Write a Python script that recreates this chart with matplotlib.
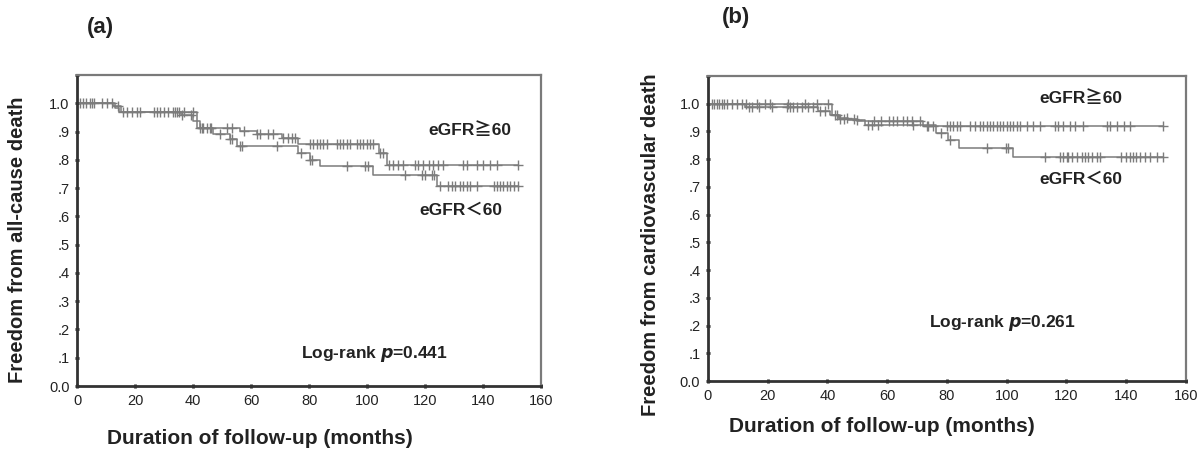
#!/usr/bin/env python3
"""
kaplan-meier plots

freedom from all-cause and cardiovascular death by eGFR group
"""

import numpy as np
import matplotlib
matplotlib.use('Agg')
import matplotlib.pyplot as plt

FONT = ['Liberation Sans', 'Noto Sans CJK JP', 'DejaVu Sans']
plt.rcParams['font.family'] = FONT

# (a) all-cause death: step times (months) and survival after each step
a_hi_times = [0, 13, 14.5, 41.5, 56.2, 62.0, 70.6, 76.3, 104.0, 106.8]
a_hi_surv = [1.0, 0.985, 0.970, 0.914, 0.902, 0.890, 0.876, 0.855, 0.825, 0.780]
a_hi_end = 152.2
a_hi_censor = [1.0, 3.1, 5.2, 8.5, 12.0, 16.0, 18.9, 21.7, 26.6, 28.6, 31.5,
               33.8, 35.3, 36.9, 40.0, 43.3, 46.2, 51.6, 53.3, 57.4, 62.0,
               63.1, 66.0, 67.7, 71.1, 72.9, 74.0, 75.2, 80.3, 81.5, 82.6,
               83.8, 84.9, 86.1, 89.5, 90.7, 91.8, 93.0, 94.1, 96.4, 97.6,
               98.7, 99.9, 101.0, 102.2, 104.5, 105.6, 107.4, 109.1, 110.8,
               112.5, 116.6, 117.7, 119.4, 121.2, 122.9, 124.6, 126.3, 133.2,
               134.4, 137.8, 140.1, 142.4, 144.7, 152.2]

a_lo_times = [0, 12.5, 15.0, 36.0, 40.0, 42.4, 47.0, 52.8, 55.1, 76.3, 80.3,
              83.8, 102.0, 124.0]
a_lo_surv = [1.0, 0.990, 0.970, 0.960, 0.937, 0.911, 0.890, 0.872, 0.849,
             0.825, 0.800, 0.778, 0.748, 0.709]
a_lo_end = 152.2
a_lo_censor = [2.2, 4.3, 6.0, 10.2, 14.2, 17.1, 20.6, 27.7, 30.0, 33.0, 34.6,
               36.1, 39.2, 42.4, 43.0, 44.7, 45.9, 49.3, 52.8, 53.3, 56.2,
               56.8, 68.9, 77.2, 80.3, 80.9, 93.0, 99.3, 100.4, 113.1, 118.9,
               120.0, 122.3, 123.1, 125.2, 128.0, 129.2, 130.3, 132.1, 133.2,
               134.4, 135.5, 137.8, 143.6, 144.7, 145.9, 147.0, 148.2, 149.3,
               150.5, 152.2]

# (b) cardiovascular death
b_hi_times = [0, 41.4, 44.0, 50.0, 72.0]
b_hi_surv = [1.0, 0.958, 0.945, 0.936, 0.918]
b_hi_end = 152.4
b_hi_censor = [1.2, 2.0, 2.9, 3.8, 4.6, 5.5, 6.3, 7.9, 9.6, 11.3, 12.9, 16.3,
               19.1, 20.8, 26.9, 32.5, 36.4, 40.3, 44.2, 45.4, 49.0, 55.5,
               58.0, 60.5, 62.0, 63.2, 65.4, 66.5, 68.2, 71.0, 73.2, 73.7,
               75.4, 79.9, 81.0, 82.1, 83.2, 84.4, 87.7, 89.4, 91.0, 92.1,
               93.3, 94.4, 95.5, 96.6, 97.7, 98.9, 100.0, 101.1, 102.2, 103.3,
               104.4, 106.7, 108.9, 111.1, 116.1, 117.3, 118.9, 121.2, 122.9,
               125.6, 133.5, 134.6, 136.8, 139.1, 141.3, 152.4]

b_lo_times = [0, 12.5, 37.0, 41.0, 44.0, 47.0, 52.5, 76.5, 80.4, 84.1, 102.2]
b_lo_surv = [1.0, 0.987, 0.975, 0.960, 0.948, 0.942, 0.922, 0.894, 0.870,
             0.842, 0.808]
b_lo_end = 152.4
b_lo_censor = [13.7, 14.8, 17.0, 21.5, 26.4, 27.5, 28.6, 29.7, 31.4, 33.6,
               35.3, 37.6, 39.3, 42.5, 43.1, 46.5, 50.0, 53.5, 55.0, 57.0,
               68.7, 78.0, 80.9, 93.5, 99.7, 100.5, 112.8, 117.8, 118.9, 120.1,
               120.6, 121.7, 123.4, 125.1, 126.2, 127.3, 128.4, 130.1, 131.1,
               138.4, 140.1, 141.2, 142.3, 143.4, 144.6, 146.3, 147.9, 150.2,
               152.4]

x_ticks = [0, 20, 40, 60, 80, 100, 120, 140, 160]
y_ticks = [0.0, 0.1, 0.2, 0.3, 0.4, 0.5, 0.6, 0.7, 0.8, 0.9, 1.0, 1.1]
y_tick_labels = ['0.0', '.1', '.2', '.3', '.4', '.5', '.6', '.7', '.8', '.9',
                 '1.0', '']

CURVE = '#7c7c7c'


def km_curve(ax, times, surv, end, censor):
    """draw one step curve with its censoring crosses"""
    xs = list(times) + [end]
    ys = list(surv) + [surv[-1]]
    ax.plot(xs, ys, drawstyle='steps-post', color=CURVE, lw=1.1)
    idx = np.searchsorted(times, censor, side='right') - 1
    cy = np.array(surv)[idx]
    ax.plot(censor, cy, ls='none', marker='+', ms=7.5, mew=1.0, color=CURVE)


def style_axes(ax):
    ax.set_xlim(0, 160)
    ax.set_ylim(0, 1.1)
    ax.set_xticks(x_ticks)
    ax.set_yticks(y_ticks)
    ax.set_yticklabels(y_tick_labels)
    ax.tick_params(length=3, width=2, direction='inout', color='#222222',
                   labelsize=10.5, labelcolor='#222222', pad=4)
    for side in ('left', 'bottom'):
        ax.spines[side].set_color('#333333')
        ax.spines[side].set_linewidth(2)
    for side in ('top', 'right'):
        ax.spines[side].set_color('#7a7a7a')
        ax.spines[side].set_linewidth(1.6)


fig = plt.figure(figsize=(12.04, 4.51), dpi=100)
ax_a = fig.add_axes([0.064, 0.1441, 0.3854, 0.6896])
ax_b = fig.add_axes([0.588, 0.1552, 0.397, 0.6763])

km_curve(ax_a, a_hi_times, a_hi_surv, a_hi_end, a_hi_censor)
km_curve(ax_a, a_lo_times, a_lo_surv, a_lo_end, a_lo_censor)
km_curve(ax_b, b_hi_times, b_hi_surv, b_hi_end, b_hi_censor)
km_curve(ax_b, b_lo_times, b_lo_surv, b_lo_end, b_lo_censor)
style_axes(ax_a)
style_axes(ax_b)

lab = dict(fontsize=12.5, fontweight='bold', color='#222222', ha='center',
           va='center', family=FONT)
ax_a.text(135.5, 0.905, 'eGFR≧60', **lab)
ax_a.text(132.4, 0.622, 'eGFR＜60', **lab)
ax_a.text(102.4, 0.113, 'Log-rank $\\boldsymbol{p}$=0.441', **lab)
ax_b.text(124.8, 1.022, 'eGFR≧60', **lab)
ax_b.text(124.8, 0.726, 'eGFR＜60', **lab)
ax_b.text(98.7, 0.209, 'Log-rank $\\boldsymbol{p}$=0.261', **lab)

big = dict(fontweight='bold', color='#222222', ha='center', va='center')
fig.text(100 / 1204, 1 - 27 / 451, '(a)', fontsize=16, **big)
fig.text(736 / 1204, 1 - 17 / 451, '(b)', fontsize=16, **big)
fig.text(260 / 1204, 1 - 438 / 451, 'Duration of follow-up (months)',
         fontsize=15, **big)
fig.text(882 / 1204, 1 - 427 / 451, 'Duration of follow-up (months)',
         fontsize=15, **big)
fig.text(18 / 1204, 1 - 240 / 451, 'Freedom from all-cause death',
         fontsize=14.5, rotation=90, **big)
fig.text(650 / 1204, 1 - 245 / 451, 'Freedom from cardiovascular death',
         fontsize=14.5, rotation=90, **big)

fig.savefig('out.png', dpi=100)
